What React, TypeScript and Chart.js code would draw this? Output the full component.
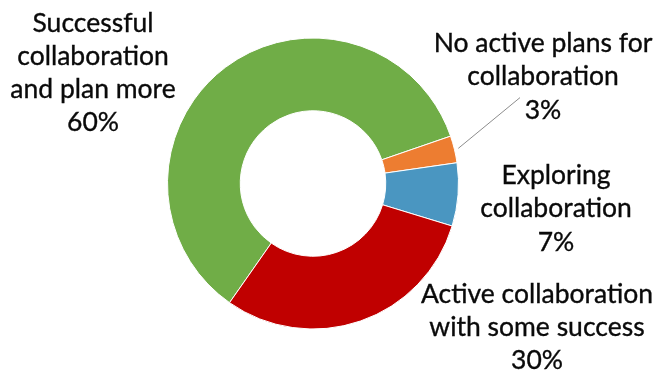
import React, { useEffect, useRef } from "react";
import { Chart, registerables } from "chart.js";

Chart.register(...registerables);

const categories: string[][] = [
  ["Successful", "collaboration", "and plan more"],
  ["No active plans for", "collaboration"],
  ["Exploring", "collaboration"],
  ["Active collaboration", "with some success"],
];
const values: number[] = [60, 3, 7, 30];
const colors: string[] = ["#70AD47", "#ED7D31", "#4A96C1", "#C00000"];
// label block placement relative to doughnut centre: [dx of text centre, dy of first baseline]
const labelOffsets: number[][] = [
  [-220, -152],
  [230, -131.5],
  [243, 0.5],
  [224, 119],
];

const FONT_SIZE = 26.5;
const LINE_H = 33.3;
const FONT_FAMILY = "Lato, 'Open Sans', sans-serif";

const labelPlugin = {
  id: "outsideLabels",
  afterDraw(chart: any) {
    const meta = chart.getDatasetMeta(0);
    const ctx = chart.ctx;
    const total = values.reduce((a, b) => a + b, 0);
    ctx.save();
    ctx.font = `${FONT_SIZE}px ${FONT_FAMILY}`;
    ctx.fillStyle = "#0a0a0a";
    ctx.strokeStyle = "#0a0a0a";
    ctx.textAlign = "center";
    ctx.textBaseline = "alphabetic";
    meta.data.forEach((arc: any, i: number) => {
      const cx = arc.x;
      const cy = arc.y;
      const lines = [...categories[i], `${Math.round((values[i] / total) * 100)}%`];
      const lx = cx + labelOffsets[i][0];
      const ly = cy + labelOffsets[i][1];
      lines.forEach((t, k) => {
        ctx.lineWidth = 0.35;
        ctx.fillText(t, lx, ly + k * LINE_H);
        ctx.strokeText(t, lx, ly + k * LINE_H);
      });
      if (i === 1) {
        const mid = (arc.startAngle + arc.endAngle) / 2;
        const r = arc.outerRadius + 4;
        ctx.beginPath();
        ctx.strokeStyle = "#8C8C8C";
        ctx.lineWidth = 1;
        ctx.moveTo(cx + Math.cos(mid) * r, cy + Math.sin(mid) * r);
        ctx.lineTo(lx - 23, ly + 2 * LINE_H - 21);
        ctx.stroke();
        ctx.strokeStyle = "#0a0a0a";
      }
    });
    ctx.restore();
  },
};

export default function App() {
  const ref = useRef<HTMLCanvasElement | null>(null);
  useEffect(() => {
    let chart: Chart | null = null;
    let cancelled = false;
    const make = () => {
      if (cancelled || !ref.current) return;
      chart = new Chart(ref.current, {
        type: "doughnut",
        data: {
          labels: categories.map((c) => c.join(" ")),
          datasets: [
            {
              data: values,
              backgroundColor: colors,
              borderColor: "#ffffff",
              borderWidth: 1,
            },
          ],
        },
        options: {
          responsive: false,
          maintainAspectRatio: false,
          animation: false,
          cutout: "50%",
          rotation: 215,
          layout: { padding: { left: 167, right: 207, top: 37.5, bottom: 42.5 } },
          plugins: {
            legend: { display: false },
            tooltip: { enabled: false },
          },
        },
        plugins: [labelPlugin],
      });
    };
    const fontsApi = (document as any).fonts;
    if (fontsApi && fontsApi.load) {
      fontsApi.load(`${FONT_SIZE}px Lato`).then(make, make);
    } else make();
    return () => {
      cancelled = true;
      if (chart) chart.destroy();
    };
  }, []);
  return (
    <div style={{ position: "absolute", left: 0, top: 0, width: 666, height: 372, background: "#fff" }}>
      <canvas ref={ref} width={666} height={372} style={{ display: "block" }} />
    </div>
  );
}
